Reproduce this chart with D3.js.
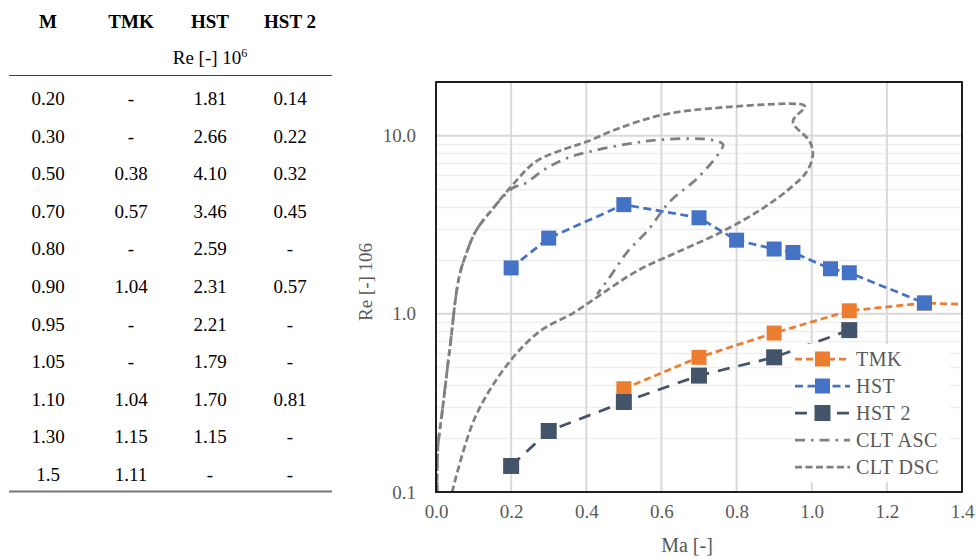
<!DOCTYPE html>
<html><head><meta charset="utf-8">
<script src="https://cdn.jsdelivr.net/npm/d3@7"></script>
<style>body{margin:0;background:#fff}svg{display:block}</style>
</head><body>
<svg id="c" width="976" height="557"></svg>
<script>
// ---- Table data ----
const tableHeaders = ["M", "TMK", "HST", "HST 2"];
const tableM    = ["0.20","0.30","0.50","0.70","0.80","0.90","0.95","1.05","1.10","1.30","1.5"];
const tableTMK  = ["-","-","0.38","0.57","-","1.04","-","-","1.04","1.15","1.11"];
const tableHST  = ["1.81","2.66","4.10","3.46","2.59","2.31","2.21","1.79","1.70","1.15","-"];
const tableHST2 = ["0.14","0.22","0.32","0.45","-","0.57","-","-","0.81","-","-"];

// ---- Chart data ----
const tmkMa  = [0.5, 0.7, 0.9, 1.1, 1.3, 1.5];
const tmkRe  = [0.38, 0.57, 0.78, 1.04, 1.15, 1.11];
const hstMa  = [0.2, 0.3, 0.5, 0.7, 0.8, 0.9, 0.95, 1.05, 1.1, 1.3];
const hstRe  = [1.81, 2.66, 4.10, 3.46, 2.59, 2.31, 2.21, 1.79, 1.70, 1.15];
const hst2Ma = [0.2, 0.3, 0.5, 0.7, 0.9, 1.1];
const hst2Re = [0.14, 0.22, 0.32, 0.45, 0.57, 0.81];
const ascMa  = [0.003,0.005,0.016,0.037,0.061,0.080,0.106,0.152,0.205,0.232,0.293,0.346,0.410,0.516,0.604,0.729,0.764,0.756,0.695,0.623,0.562,0.511,0.468,0.445,0.429];
const ascRe  = [0.10, 0.178,0.276,0.646,1.59, 2.16, 2.91, 3.91, 5.10, 5.32, 6.54, 7.44, 8.14, 9.02, 9.50, 9.50, 8.91, 8.14, 5.75, 4.28, 2.91, 2.25, 1.67, 1.43, 1.29];
const dscMa  = [0.003,0.005,0.016,0.037,0.061,0.080,0.106,0.152,0.205,0.266,0.346,0.402,0.482,0.604,0.783,0.977,0.982,0.950,0.995,1.003,0.987,0.942,0.870,0.764,0.649,0.535,0.445,0.365,0.277,0.192,0.104,0.043];
const dscRe  = [0.10, 0.178,0.276,0.646,1.59, 2.16, 2.91, 3.91, 5.32, 7.16, 8.46, 9.26, 10.9, 13.1, 14.5, 14.9, 14.5, 12.0, 9.26, 7.83, 6.29, 5.06, 3.91, 2.91, 2.25, 1.74, 1.31, 1.01, 0.80, 0.526,0.262,0.10];
const xTicks = [0, 0.2, 0.4, 0.6, 0.8, 1.0, 1.2, 1.4];
const yTicks = [0.1, 1, 10];

const svg = d3.select("#c");
const serif = "'Liberation Serif','Times New Roman',serif";

// ---- Table ----
const colX = [48, 131, 210, 290];
const tg = svg.append("g").attr("font-family", serif).attr("fill", "#000");
tg.selectAll("text.h").data(tableHeaders).join("text")
  .attr("x", (d,i)=>colX[i]).attr("y", 28).attr("text-anchor","middle")
  .attr("font-size", 19).attr("font-weight","bold").text(d=>d);
const sub = tg.append("text").attr("x", 210).attr("y", 64).attr("text-anchor","middle").attr("font-size", 19);
sub.append("tspan").text("Re [-] 10");
sub.append("tspan").attr("dy", -7).attr("font-size", 12).text("6");
tg.append("line").attr("x1",9).attr("x2",332).attr("y1",75.5).attr("y2",75.5).attr("stroke","#444").attr("stroke-width",1);
const rows = tableM.map((m,i)=>[m, tableTMK[i], tableHST[i], tableHST2[i]]);
const rowY = d3.scaleLinear().domain([0, rows.length-1]).range([105, 481]);
rows.forEach((r,i)=>{
  tg.selectAll(null).data(r).join("text")
    .attr("x",(d,j)=>colX[j]).attr("y", rowY(i)).attr("text-anchor","middle")
    .attr("font-size", 19).text(d=>d);
});
tg.append("line").attr("x1",9).attr("x2",332).attr("y1",491.5).attr("y2",491.5).attr("stroke","#777").attr("stroke-width",2);

// ---- Chart ----
const L = 436, R = 962, T = 82, B = 492;
const x = d3.scaleLinear().domain([0, 1.4]).range([L, R]);
const y = d3.scaleLog().domain([0.1, 20]).range([B, T]);

const grid = svg.append("g");
const minor = [0.2,0.3,0.4,0.5,0.6,0.7,0.8,0.9,2,3,4,5,6,7,8,9];
grid.selectAll("line.mn").data(minor).join("line")
  .attr("x1", L).attr("x2", R).attr("y1", d=>Math.round(y(d))+0.5).attr("y2", d=>Math.round(y(d))+0.5)
  .attr("stroke", "#efefef").attr("stroke-width", 1.5);
grid.selectAll("line.mj").data([1, 10]).join("line")
  .attr("x1", L).attr("x2", R).attr("y1", d=>y(d)).attr("y2", d=>y(d))
  .attr("stroke", "#d9d9d9").attr("stroke-width", 2);
grid.selectAll("line.v").data(xTicks.slice(1, -1)).join("line")
  .attr("x1", d=>x(d)).attr("x2", d=>x(d)).attr("y1", T).attr("y2", B)
  .attr("stroke", "#d9d9d9").attr("stroke-width", 2);

// axes labels
const xa = svg.append("g").attr("transform", `translate(0,${B+9})`)
  .call(d3.axisBottom(x).tickValues(xTicks).tickFormat(d3.format(".1f")).tickSize(0));
xa.select(".domain").remove();
xa.selectAll("text").attr("font-family", serif).attr("font-size", 19).attr("fill", "#595959");
const ya = svg.append("g").attr("transform", `translate(${L-17},0)`)
  .call(d3.axisLeft(y).tickValues(yTicks).tickFormat(d3.format(".1f")).tickSize(0));
ya.select(".domain").remove();
ya.selectAll("text").attr("font-family", serif).attr("font-size", 19).attr("fill", "#595959");

svg.append("text").attr("x", 687).attr("y", 552).attr("text-anchor","middle")
  .attr("font-family", serif).attr("font-size", 20).attr("fill", "#595959").text("Ma [-]");
svg.append("text").attr("transform","translate(372,282) rotate(-90)").attr("text-anchor","middle")
  .attr("font-family", serif).attr("font-size", 19).attr("fill", "#595959").text("Re [-] 106");

// clip
svg.append("clipPath").attr("id","pa").append("rect").attr("x",L).attr("y",T).attr("width",R-L).attr("height",B-T);
const pg = svg.append("g").attr("clip-path","url(#pa)");

const smooth = d3.line().x(d=>x(d[0])).y(d=>y(d[1])).curve(d3.curveCatmullRom.alpha(0.5));
const straight = d3.line().x(d=>x(d[0])).y(d=>y(d[1]));
const zip = (a,b)=>a.map((v,i)=>[v,b[i]]);

const series = [
  {name:"TMK", data: zip(tmkMa,tmkRe), color:"#ED7D31", dash:"7,4", marker:true, size:15},
  {name:"HST", data: zip(hstMa,hstRe), color:"#4472C4", dash:"8,4.5", marker:true, size:15},
  {name:"HST 2", data: zip(hst2Ma,hst2Re), color:"#44546A", dash:"12,9", marker:true, size:16},
  {name:"CLT ASC", data: zip(ascMa,ascRe), color:"#808080", dash:"10,6,2.5,6", marker:false},
  {name:"CLT DSC", data: zip(dscMa,dscRe), color:"#808080", dash:"7,3.5", marker:false}
];

// CLT curves behind
series.filter(s=>!s.marker).forEach(s=>{
  pg.append("path").attr("d", smooth(s.data)).attr("fill","none")
    .attr("stroke", s.color).attr("stroke-width", 2.75).attr("stroke-dasharray", s.dash);
});
series.filter(s=>s.marker).forEach(s=>{
  pg.append("path").attr("d", straight(s.data)).attr("fill","none")
    .attr("stroke", s.color).attr("stroke-width", 2.75).attr("stroke-dasharray", s.dash);
  pg.selectAll(null).data(s.data).join("rect")
    .attr("x", d=>x(d[0])-s.size/2).attr("y", d=>y(d[1])-s.size/2)
    .attr("width", s.size).attr("height", s.size).attr("fill", s.color);
});

// frame
svg.append("rect").attr("x",L).attr("y",T).attr("width",R-L).attr("height",B-T)
  .attr("fill","none").attr("stroke","#000").attr("stroke-width",1.75);

// legend
const lg = svg.append("g");
lg.append("rect").attr("x", 792).attr("y", 344).attr("width", 158).attr("height", 138).attr("fill", "#fff");
series.forEach((s,i)=>{
  const cy = 359 + i*27;
  lg.append("line").attr("x1", 795).attr("x2", 850).attr("y1", cy).attr("y2", cy)
    .attr("stroke", s.color).attr("stroke-width", 2.75).attr("stroke-dasharray", s.dash);
  if (s.marker) lg.append("rect").attr("x", 822.5 - s.size/2).attr("y", cy - s.size/2)
    .attr("width", s.size).attr("height", s.size).attr("fill", s.color);
  lg.append("text").attr("x", 856).attr("y", cy + 7).attr("font-family", serif)
    .attr("font-size", 20).attr("letter-spacing", 0.5).attr("fill", "#595959").text(s.name);
});
</script>
</body></html>
